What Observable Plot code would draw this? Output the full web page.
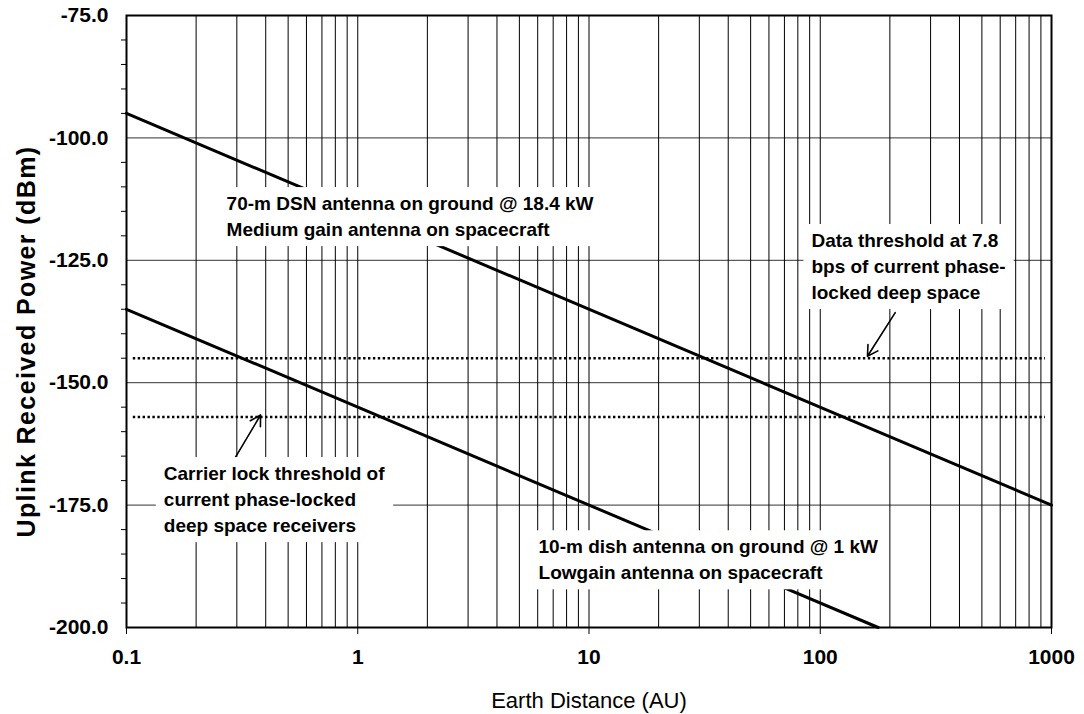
<!DOCTYPE html>
<html><head><meta charset="utf-8">
<script src="https://cdn.jsdelivr.net/npm/d3@7"></script>
<script src="https://cdn.jsdelivr.net/npm/@observablehq/plot@0.6"></script>
<style>
body{margin:0;background:#fff;}
svg{font-family:Arial,"Liberation Sans",sans-serif;}
</style>
</head><body><div id="chart"></div>
<script>
// ---- data ----
const dsn70Distance = [0.1, 1000];          // AU
const dsn70Power = [-95, -175];             // dBm
const dish10Distance = [0.1, 178];          // AU (line ends at plot floor)
const dish10Power = [-135, -200];           // dBm
const thresholdNames = ["Data threshold", "Carrier lock threshold"];
const thresholdLevels = [-145, -157];       // dBm
const thresholdStart = [0.107, 0.107];
const thresholdEnd = [942, 942];

const xTickValues = [0.1, 1, 10, 100, 1000];
const xTickLabels = ["0.1", "1", "10", "100", "1000"];
const yTickValues = [-75, -100, -125, -150, -175, -200];
const yTickLabels = ["-75.0", "-100.0", "-125.0", "-150.0", "-175.0", "-200.0"];
const yMinorTicks = [-80,-85,-90,-95,-105,-110,-115,-120,-130,-135,-140,-145,-155,-160,-165,-170,-180,-185,-190,-195];
const xMinorMultipliers = [2,3,4,5,6,7,8,9];

const xTitle = "Earth Distance (AU)";
const yTitle = "Uplink Received Power (dBm)";

const annotationTexts = [
  "70-m DSN antenna on ground @ 18.4 kW\nMedium gain antenna on spacecraft",
  "Data threshold at 7.8\nbps of current phase-\nlocked deep space",
  "Carrier lock threshold of\ncurrent phase-locked\ndeep space receivers",
  "10-m dish antenna on ground @ 1 kW\nLowgain antenna on spacecraft"
];
const annotationX = [0.271, 91.6, 0.145, 6.05];
const annotationY = [-115.7, -125.9, -173.5, -185.8];

const arrowFromX = [211, 0.29];
const arrowFromY = [-135.7, -165.9];
const arrowToX = [160, 0.38];
const arrowToY = [-144.6, -156.6];

// ---- build tables ----
const dsnData = dsn70Distance.map((d, i) => ({x: d, y: dsn70Power[i]}));
const dishData = dish10Distance.map((d, i) => ({x: d, y: dish10Power[i]}));
const thresholdData = thresholdLevels.map((v, i) => ({name: thresholdNames[i], y: v, x1: thresholdStart[i], x2: thresholdEnd[i]}));
const gridX = [];
for (let k = 0; k < xTickValues.length - 1; k++) {
  gridX.push(xTickValues[k]);
  for (const m of xMinorMultipliers) gridX.push(+(xTickValues[k] * m).toPrecision(3));
}
const gridY = yTickValues.slice(1, -1);
const annotations = annotationTexts.map((t, i) => ({text: t, x: annotationX[i], y: annotationY[i]}));
const arrows = arrowFromX.map((d, i) => ({x1: d, y1: arrowFromY[i], x2: arrowToX[i], y2: arrowToY[i]}));

const font = 'Arial, "Liberation Sans", sans-serif';

const plot = Plot.plot({
  width: 1084,
  height: 714,
  marginLeft: 126,
  marginRight: 33,
  marginTop: 15,
  marginBottom: 87,
  x: {type: "log", domain: [0.1, 1000]},
  y: {domain: [-200, -75]},
  style: {fontFamily: font, background: "white", color: "black"},
  marks: [
    Plot.ruleY(gridY, {stroke: "#333", strokeWidth: 1}),
    Plot.ruleX(gridX, {stroke: "#000", strokeWidth: 1}),
    Plot.ruleY(thresholdData, {y: "y", x1: "x1", x2: "x2", stroke: "#000", strokeWidth: 2.6, strokeDasharray: "2.4,2.5"}),
    Plot.line(dsnData, {x: "x", y: "y", stroke: "#000", strokeWidth: 3}),
    Plot.line(dishData, {x: "x", y: "y", stroke: "#000", strokeWidth: 3}),
    Plot.arrow(arrows, {x1: "x1", y1: "y1", x2: "x2", y2: "y2", stroke: "#000", strokeWidth: 1.6, headLength: 11}),
    Plot.text(annotations, {x: "x", y: "y", text: "text", textAnchor: "start", lineAnchor: "middle",
      fontSize: 19, fontWeight: "bold", lineHeight: 1.37, fill: "#000"}),
    Plot.frame({stroke: "#000", strokeWidth: 2}),
    Plot.axisY(yMinorTicks, {tickSize: 5, tickFormat: () => "", label: null}),
    Plot.axisY(yTickValues, {tickSize: 0, tickPadding: 18, fontSize: 21, fontWeight: "bold",
      tickFormat: d => yTickLabels[yTickValues.indexOf(d)], label: null}),
    Plot.axisX(xTickValues, {tickSize: 7, tickPadding: 15, fontSize: 21, fontWeight: "bold",
      tickFormat: d => xTickLabels[xTickValues.indexOf(d)], label: null}),
    Plot.text([xTitle], {frameAnchor: "bottom", dy: 73, textAnchor: "middle", lineAnchor: "middle", fontSize: 22, fill: "#000"}),
    Plot.text([yTitle], {frameAnchor: "left", dx: -100, dy: 20, rotate: -90, textAnchor: "middle", lineAnchor: "middle", fontSize: 25, fontWeight: "bold", fill: "#000"})
  ]
});

document.getElementById("chart").append(plot);

// white boxes behind the annotation labels (they break the lines & gridlines)
const ns = "http://www.w3.org/2000/svg";
const wanted = annotationTexts.map(t => t.replace(/\n/g, ""));
plot.querySelectorAll("text").forEach(t => {
  if (t.textContent === yTitle) { t.style.letterSpacing = "1.4px"; return; }
  if (!wanted.includes(t.textContent)) return;
  const b = t.getBBox();
  const r = document.createElementNS(ns, "rect");
  const px = 8, py = 6;
  r.setAttribute("x", b.x - px);
  r.setAttribute("y", b.y - py);
  r.setAttribute("width", b.width + 2 * px);
  r.setAttribute("height", b.height + 2 * py);
  r.setAttribute("fill", "white");
  const tr = t.getAttribute("transform");
  if (tr) r.setAttribute("transform", tr);
  t.parentNode.insertBefore(r, t);
});
</script>
</body></html>
